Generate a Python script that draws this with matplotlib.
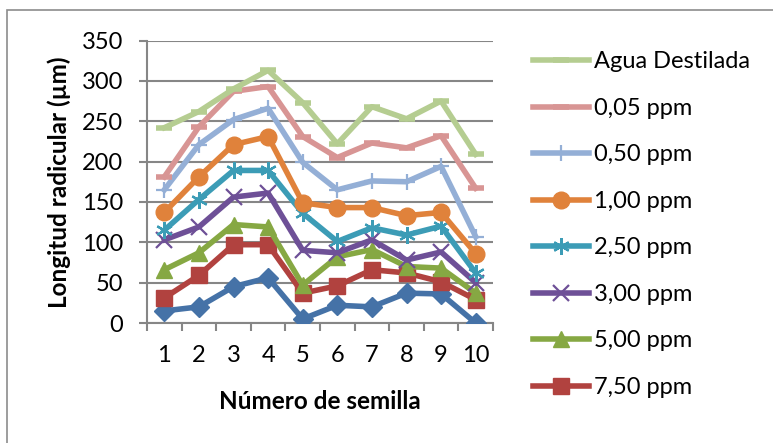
import matplotlib
matplotlib.use("Agg")
from matplotlib import pyplot as plt
from matplotlib.patches import Rectangle

plt.rcParams['font.family'] = ['Lato', 'DejaVu Sans']

semillas = [1, 2, 3, 4, 5, 6, 7, 8, 9, 10]

# values (um)
agua = [242, 262, 290, 313, 273, 222, 268, 253, 275, 209]
ppm_005 = [181, 243, 287, 293, 231, 205, 223, 217, 232, 167]
ppm_050 = [165, 221, 252, 266, 199, 165, 176, 175, 194, 107]
ppm_100 = [137, 181, 221, 231, 149, 143, 143, 133, 137, 86]
ppm_250 = [115, 153, 189, 189, 136, 101, 118, 109, 120, 62]
ppm_300 = [103, 119, 156, 161, 90, 87, 103, 78, 88, 50]
ppm_500 = [66, 87, 122, 119, 47, 82, 91, 70, 68, 37]
ppm_750 = [31, 59, 97, 97, 37, 46, 66, 62, 51, 29]
ppm_1000 = [15, 20, 45, 56, 5, 22, 20, 37, 36, 0]

etiquetas = ['Agua Destilada', '0,05 ppm', '0,50 ppm', '1,00 ppm', '2,50 ppm',
             '3,00 ppm', '5,00 ppm', '7,50 ppm']

fig = plt.figure(figsize=(7.73, 4.43), dpi=100)
ax = fig.add_axes([147 / 773, 1 - 323 / 443, 346 / 773, 282.5 / 443])

# outer chart frame (cut off at right and bottom)
fig.patches.append(Rectangle((7 / 773, -0.1), 1.1, 1 - 10.5 / 443 + 0.1,
                             transform=fig.transFigure, fill=False,
                             edgecolor='#8c8c8c', linewidth=1.2))

lw = 4
# drawn bottom series first so upper ones come later in legend order
ax.plot(semillas, ppm_1000, color='#4572a7', lw=lw, marker='D', ms=10,
        label='_10,00 ppm', zorder=3)
ax.plot(semillas, ppm_750, color='#b1423f', lw=lw, marker='s', ms=11,
        label=etiquetas[7], zorder=3)
ax.plot(semillas, ppm_500, color='#86a843', lw=lw, marker='^', ms=12,
        label=etiquetas[6], zorder=3)
ax.plot(semillas, ppm_300, color='#6e5097', lw=lw, marker='x', ms=11,
        mew=1.6, label=etiquetas[5], zorder=3)
ax.plot(semillas, ppm_250, color='#3c9cb6', lw=lw, marker=(6, 2, 0), ms=12,
        mew=1.6, label=etiquetas[4], zorder=3)
ax.plot(semillas, ppm_100, color='#e0823b', lw=lw, marker='o', ms=12,
        label=etiquetas[3], zorder=3)
ax.plot(semillas, ppm_050, color='#94afd6', lw=lw, marker='+', ms=12,
        mew=1.6, label=etiquetas[2], zorder=3)
ax.plot(semillas, ppm_005, color='#d89594', lw=lw, marker='_', ms=11,
        mew=lw, label=etiquetas[1], zorder=3)
ax.plot(semillas, agua, color='#b5cd91', lw=lw, marker='_', ms=11,
        mew=lw, label=etiquetas[0], zorder=3)

ax.set_xlim(0.5, 10.5)
ax.set_ylim(0, 350)
ax.set_yticks(range(0, 351, 50))
ax.set_xticks(semillas)
ax.set_xticks([i + 0.5 for i in range(0, 11)], minor=True)
ax.tick_params(axis='x', which='major', length=0, pad=16, labelsize=17)
ax.tick_params(axis='x', which='minor', length=6, width=1.5, color='#868686',
               direction='out')
ax.tick_params(axis='y', length=6, width=1.5, color='#868686', pad=11,
               labelsize=17)
ax.grid(axis='y', color='#868686', lw=1.5, zorder=0)
for s in ['top', 'right']:
    ax.spines[s].set_visible(False)
for s in ['left', 'bottom']:
    ax.spines[s].set_color('#868686')
    ax.spines[s].set_linewidth(1.5)

ax.set_xlabel('Número de semilla', fontsize=17.5, fontweight='bold',
              labelpad=17)
ax.set_ylabel('Longitud radicular (µm)', fontsize=17.5, fontweight='bold',
              labelpad=8)

handles, labels = ax.get_legend_handles_labels()
ax.legend(handles[::-1], labels[::-1], loc='upper left',
          bbox_to_anchor=(524 / 773, 1 - 42 / 443),
          bbox_transform=fig.transFigure, frameon=False, fontsize=17,
          handlelength=2.35, handletextpad=0.2, labelspacing=1.08,
          borderaxespad=0)

fig.savefig('out.png', dpi=100)
